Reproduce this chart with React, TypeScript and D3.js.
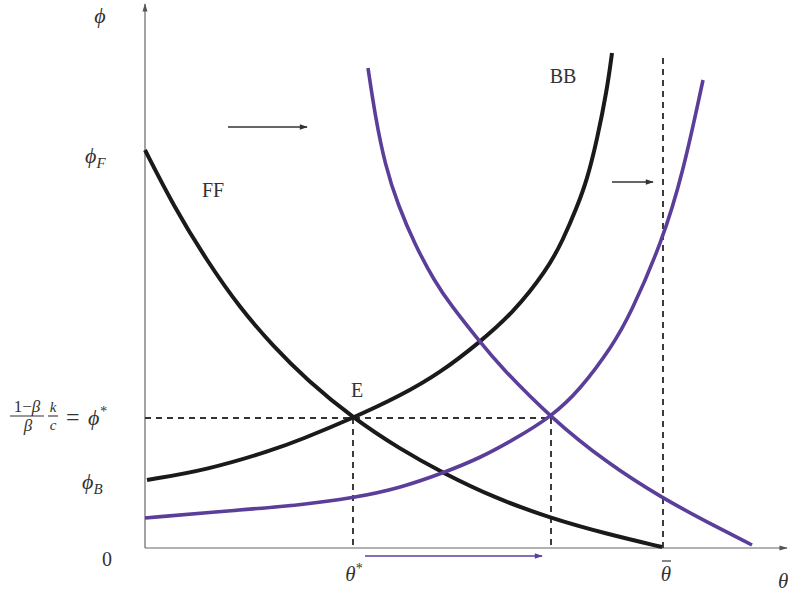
import React from 'react';
import { scaleLinear, line, curveBasis } from 'd3';

// curves, [theta, phi]
const ffCurve: [number, number][] = [
  [0, 3.98], [0.28, 3.43], [0.62, 2.87], [0.95, 2.40], [1.28, 2.02], [1.62, 1.68],
  [2.08, 1.30], [2.55, 0.99], [2.98, 0.75], [3.50, 0.50], [4.05, 0.30], [4.62, 0.14], [5.17, 0.01],
];
const bbCurve: [number, number][] = [
  [0.02, 0.68], [0.62, 0.78], [1.28, 0.98], [1.55, 1.08], [2.08, 1.30], [2.55, 1.52],
  [2.95, 1.75], [3.35, 2.06], [3.68, 2.35], [4.02, 2.78], [4.18, 3.08], [4.32, 3.41],
  [4.42, 3.68], [4.52, 4.08], [4.62, 4.58], [4.67, 4.95],
];
const bbShifted: [number, number][] = [
  [0, 0.30], [0.95, 0.38], [1.55, 0.43], [2.08, 0.50], [2.55, 0.60], [2.98, 0.75],
  [3.35, 0.90], [3.68, 1.08], [4.06, 1.31], [4.35, 1.58], [4.68, 2.03], [4.85, 2.33],
  [5.17, 3.06], [5.38, 3.75], [5.58, 4.68],
];
const ffShifted: [number, number][] = [
  [2.23, 4.80], [2.30, 4.33], [2.40, 3.83], [2.53, 3.43], [2.70, 3.03], [2.90, 2.66],
  [3.05, 2.44], [3.35, 2.06], [3.55, 1.82], [4.06, 1.30], [4.62, 0.85], [5.17, 0.50],
  [5.62, 0.26], [6.07, 0.03],
];

const phiF = 3.98;
const phiB = 0.68;
const phiStar = 1.30;
const thetaStar = 2.08;
const thetaNew = 4.06;
const thetaBar = 5.18;
const thetaBarTop = 4.9;

// shift arrows
const shiftArrows = [
  { x0: 0.83, x1: 1.62, y: 4.21, color: '#333' },
  { x0: 4.67, x1: 5.08, y: 3.66, color: '#333' },
  { x0: 2.20, x1: 3.97, y: -0.08, color: '#5a3e9a' },
];

const W = 788, H = 592;
const BLACK = '#1a1a1a';
const PURPLE = '#5a3e9a';
const FONT = '"Liberation Serif", "DejaVu Serif", serif';

export default function App() {
  const x = scaleLinear().domain([0, 6.4]).range([145, 785]);
  const y = scaleLinear().domain([0, 5.43]).range([548, 5]);

  const path = line<[number, number]>()
    .x(d => x(d[0]))
    .y(d => y(d[1]))
    .curve(curveBasis);

  const dash = { stroke: '#333', strokeWidth: 1.9, strokeDasharray: '6,5' };

  return (
    <svg width={W} height={H} style={{ position: 'absolute', left: 0, top: 0 }}
      fontFamily={FONT}>
      <defs>
        <marker id="axhead" viewBox="0 0 10 10" refX="9" refY="5" markerWidth="7" markerHeight="7" orient="auto">
          <path d="M0,2 L10,5 L0,8 z" fill="#555" />
        </marker>
        <marker id="greyhead" viewBox="0 0 10 10" refX="9" refY="5" markerWidth="11" markerHeight="8" markerUnits="userSpaceOnUse" orient="auto">
          <path d="M0,1.5 L10,5 L0,8.5 z" fill="#333" />
        </marker>
        <marker id="purplehead" viewBox="0 0 10 10" refX="9" refY="5" markerWidth="11" markerHeight="8" markerUnits="userSpaceOnUse" orient="auto">
          <path d="M0,1.5 L10,5 L0,8.5 z" fill={PURPLE} />
        </marker>
      </defs>

      {/* axes */}
      <line x1={x(0)} y1={y(0)} x2={x(0)} y2={4} stroke="#666" strokeWidth={1.2} markerEnd="url(#axhead)" />
      <line x1={x(0)} y1={y(0)} x2={787} y2={y(0)} stroke="#666" strokeWidth={1.2} markerEnd="url(#axhead)" />

      {/* dashed guides */}
      <line x1={x(0)} y1={y(phiStar)} x2={x(thetaNew)} y2={y(phiStar)} style={dash} />
      <line x1={x(thetaStar)} y1={y(phiStar)} x2={x(thetaStar)} y2={y(0)} style={dash} />
      <line x1={x(thetaNew)} y1={y(phiStar)} x2={x(thetaNew)} y2={y(0)} style={dash} />
      <line x1={x(thetaBar)} y1={y(thetaBarTop)} x2={x(thetaBar)} y2={y(0)} style={dash} />

      {/* curves */}
      <path d={path(ffCurve) ?? ''} fill="none" stroke={BLACK} strokeWidth={4} />
      <path d={path(bbCurve) ?? ''} fill="none" stroke={BLACK} strokeWidth={4} />
      <path d={path(bbShifted) ?? ''} fill="none" stroke={PURPLE} strokeWidth={3.6} />
      <path d={path(ffShifted) ?? ''} fill="none" stroke={PURPLE} strokeWidth={3.6} />

      {/* shift arrows */}
      {shiftArrows.map((a, i) => (
        <line key={i} x1={x(a.x0)} y1={y(a.y)} x2={x(a.x1)} y2={y(a.y)}
          stroke={a.color} strokeWidth={1.3}
          markerEnd={a.color === PURPLE ? 'url(#purplehead)' : 'url(#greyhead)'} />
      ))}

      {/* curve labels */}
      <text x={213} y={197} fontSize={20} fill="#333" textAnchor="middle">FF</text>
      <text x={563} y={83} fontSize={20} fill="#333" textAnchor="middle">BB</text>
      <text x={357} y={397} fontSize={20} fill="#333" textAnchor="middle">E</text>

      {/* y-axis labels */}
      <text x={100} y={23} fontSize={22} fill="#333" fontStyle="italic" textAnchor="middle">ϕ</text>
      <text x={85} y={y(phiF) + 13} fontSize={22} fill="#333" fontStyle="italic">ϕ<tspan fontSize={15} dy={5}>F</tspan></text>
      <text x={82} y={y(phiB) + 9} fontSize={22} fill="#333" fontStyle="italic">ϕ<tspan fontSize={15} dy={5}>B</tspan></text>
      <text x={107} y={566} fontSize={20} fill="#333" textAnchor="middle">0</text>

      {/* fraction label for phi* */}
      <g fill="#333" fontSize={17}>
        <text x={27} y={412} textAnchor="middle">1−<tspan fontStyle="italic">β</tspan></text>
        <line x1={10} x2={44} y1={y(phiStar) - 2} y2={y(phiStar) - 2} stroke="#333" strokeWidth={1.1} />
        <text x={28} y={431} textAnchor="middle" fontStyle="italic">β</text>
        <text x={53} y={412} fontSize={15} textAnchor="middle" fontStyle="italic">k</text>
        <line x1={48} x2={58} y1={y(phiStar) - 2} y2={y(phiStar) - 2} stroke="#333" strokeWidth={1.1} />
        <text x={53} y={430} fontSize={15} textAnchor="middle" fontStyle="italic">c</text>
        <text x={66} y={425} fontSize={24}>=</text>
        <text x={88} y={425} fontSize={22} fontStyle="italic">ϕ<tspan fontSize={14} dy={-9}>*</tspan></text>
      </g>

      {/* x-axis labels */}
      <text x={x(thetaStar) + 1} y={581} fontSize={21} fill="#333" fontStyle="italic" textAnchor="middle">θ<tspan fontSize={14} dy={-8} fontStyle="normal">*</tspan></text>
      <text x={x(thetaBar) + 3} y={581} fontSize={21} fill="#333" fontStyle="italic" textAnchor="middle">θ</text>
      <line x1={x(thetaBar) - 1} x2={x(thetaBar) + 8} y1={561} y2={561} stroke="#333" strokeWidth={1.2} />
      <text x={778} y={588} fontSize={21} fill="#333" fontStyle="italic">θ</text>
    </svg>
  );
}
